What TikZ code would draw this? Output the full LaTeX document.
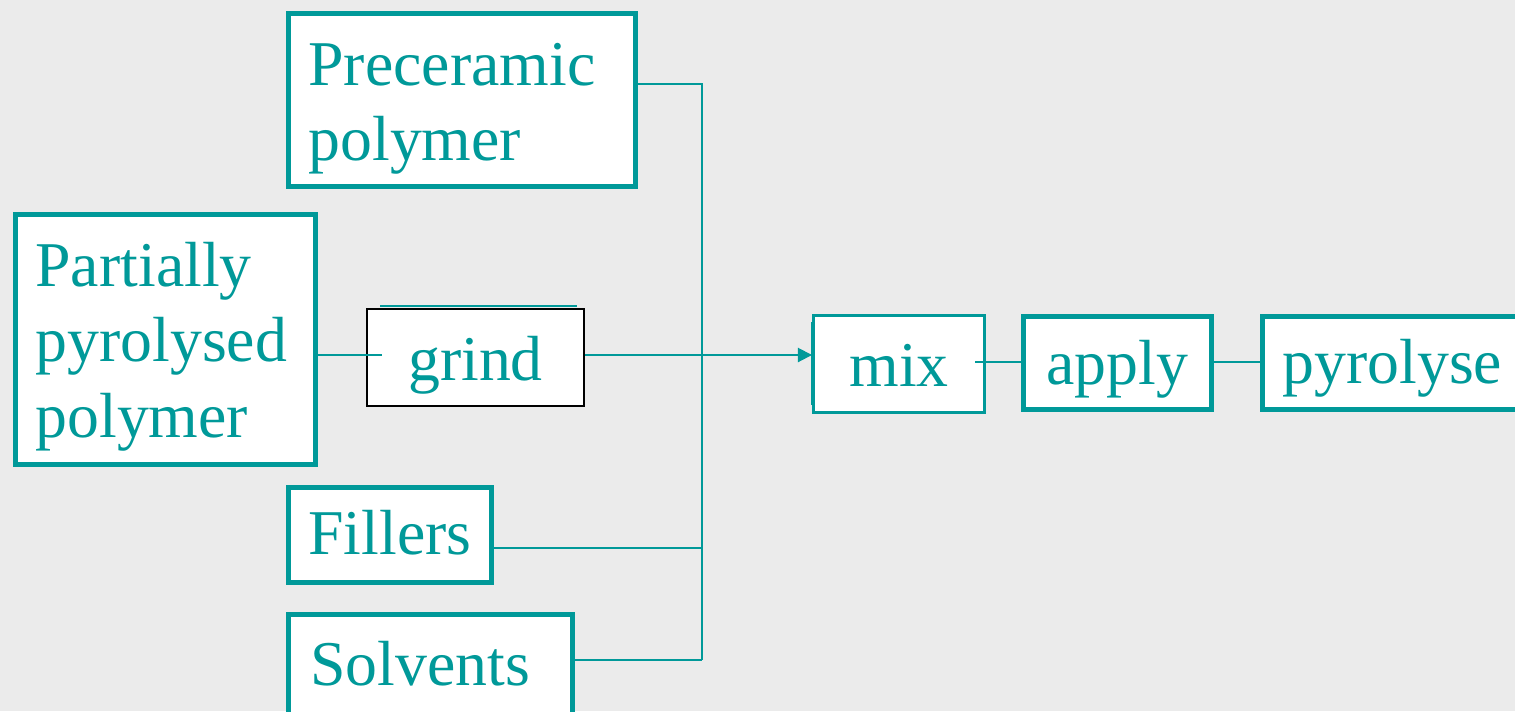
\documentclass[tikz,border=0pt]{standalone}
\usepackage{fontspec}
\setmainfont{Liberation Serif}
\usepackage{xcolor}
\usetikzlibrary{arrows.meta}

\definecolor{tealline}{RGB}{0,153,153}
\definecolor{bggray}{RGB}{235,235,235}

\begin{document}
\begin{tikzpicture}[x=0.02cm, y=-0.02cm,
	box/.style={rectangle, draw=tealline, fill=white, text=tealline, inner sep=0pt,
		text depth=0pt, font=\fontsize{36.3}{43}\selectfont},
	thickbox/.style={box, line width=2.8pt},
	thinbox/.style={box, line width=1.7pt},
	leftbox/.style={thickbox, align=left, inner xsep=0.4cm},
	link/.style={draw=tealline, line width=1.1pt}]
	
	% Background
	\fill[bggray] (0,0) rectangle (1515,711);
	\useasboundingbox (0,0) rectangle (1515,711);
	\clip (0,0) rectangle (1515,711);
	
	% Ingredients
	\node[leftbox, inner xsep=0.4cm, text width=6.14cm, minimum height=3.46cm,
		text height=34pt, text depth=51pt] (pre) at (462,100) {Preceramic\\polymer};
	\node[leftbox, text width=5.2cm, minimum height=5cm,
		text height=33.4pt, text depth=94pt] (part) at (165.5,339.5) {Partially\\pyrolysed\\polymer};
	\node[box, draw=black, line width=1.1pt, minimum width=4.34cm, minimum height=1.94cm,
		text height=26.6pt] (grind) at (475.5,357.5) {grind};
	\node[thickbox, minimum width=4.06cm, minimum height=1.9cm,
		text height=22.7pt] (fil) at (390,535) {Fillers};
	\node[leftbox, inner xsep=0.44cm, text width=4.8cm, minimum height=2.2cm,
		text height=18.7pt] (sol) at (430.5,669.5) {Solvents};
	
	% Process steps
	\node[thinbox, minimum width=3.42cm, minimum height=1.94cm,
		text height=26.1pt] (mix) at (899,364) {mix};
	\node[thickbox, minimum width=3.76cm, minimum height=1.86cm,
		text height=24.9pt] (app) at (1117.5,363) {apply};
	\node[leftbox, text width=4.45cm, minimum height=1.86cm,
		text height=23.8pt] (pyr) at (1393.75,363) {pyrolyse};
	
	% Points on the collecting line
	\coordinate (btop) at (702,84);    % from preceramic polymer
	\coordinate (bfil) at (702,548);   % from fillers
	\coordinate (bsol) at (702,660);   % from solvents
	\coordinate (gin) at (382,355);    % into grind
	\coordinate (mout) at (975,362);   % out of mix
	
	% Collecting line
	\draw[link] (btop -| pre.east) -- (btop) -- (bsol);
	\draw[link] (bfil -| fil.east) -- (bfil);
	\draw[link] (bsol -| sol.east) -- (bsol);
	
	% Grind branch
	\draw[link] (gin -| part.east) -- (gin);
	\draw[link] (380,306) -- (577,306);
	\draw[link, -{Triangle[length=8pt, width=8pt]}, tealline] (gin -| grind.east) -- (gin -| mix.west);
	\draw[link] (811.5,322) -- (811.5,405);
	
	% Process chain
	\draw[link] (mout) -- (mout -| app.west);
	\draw[link] (app.east |- mout) -- (pyr.west |- mout);
	
\end{tikzpicture}
\end{document}
